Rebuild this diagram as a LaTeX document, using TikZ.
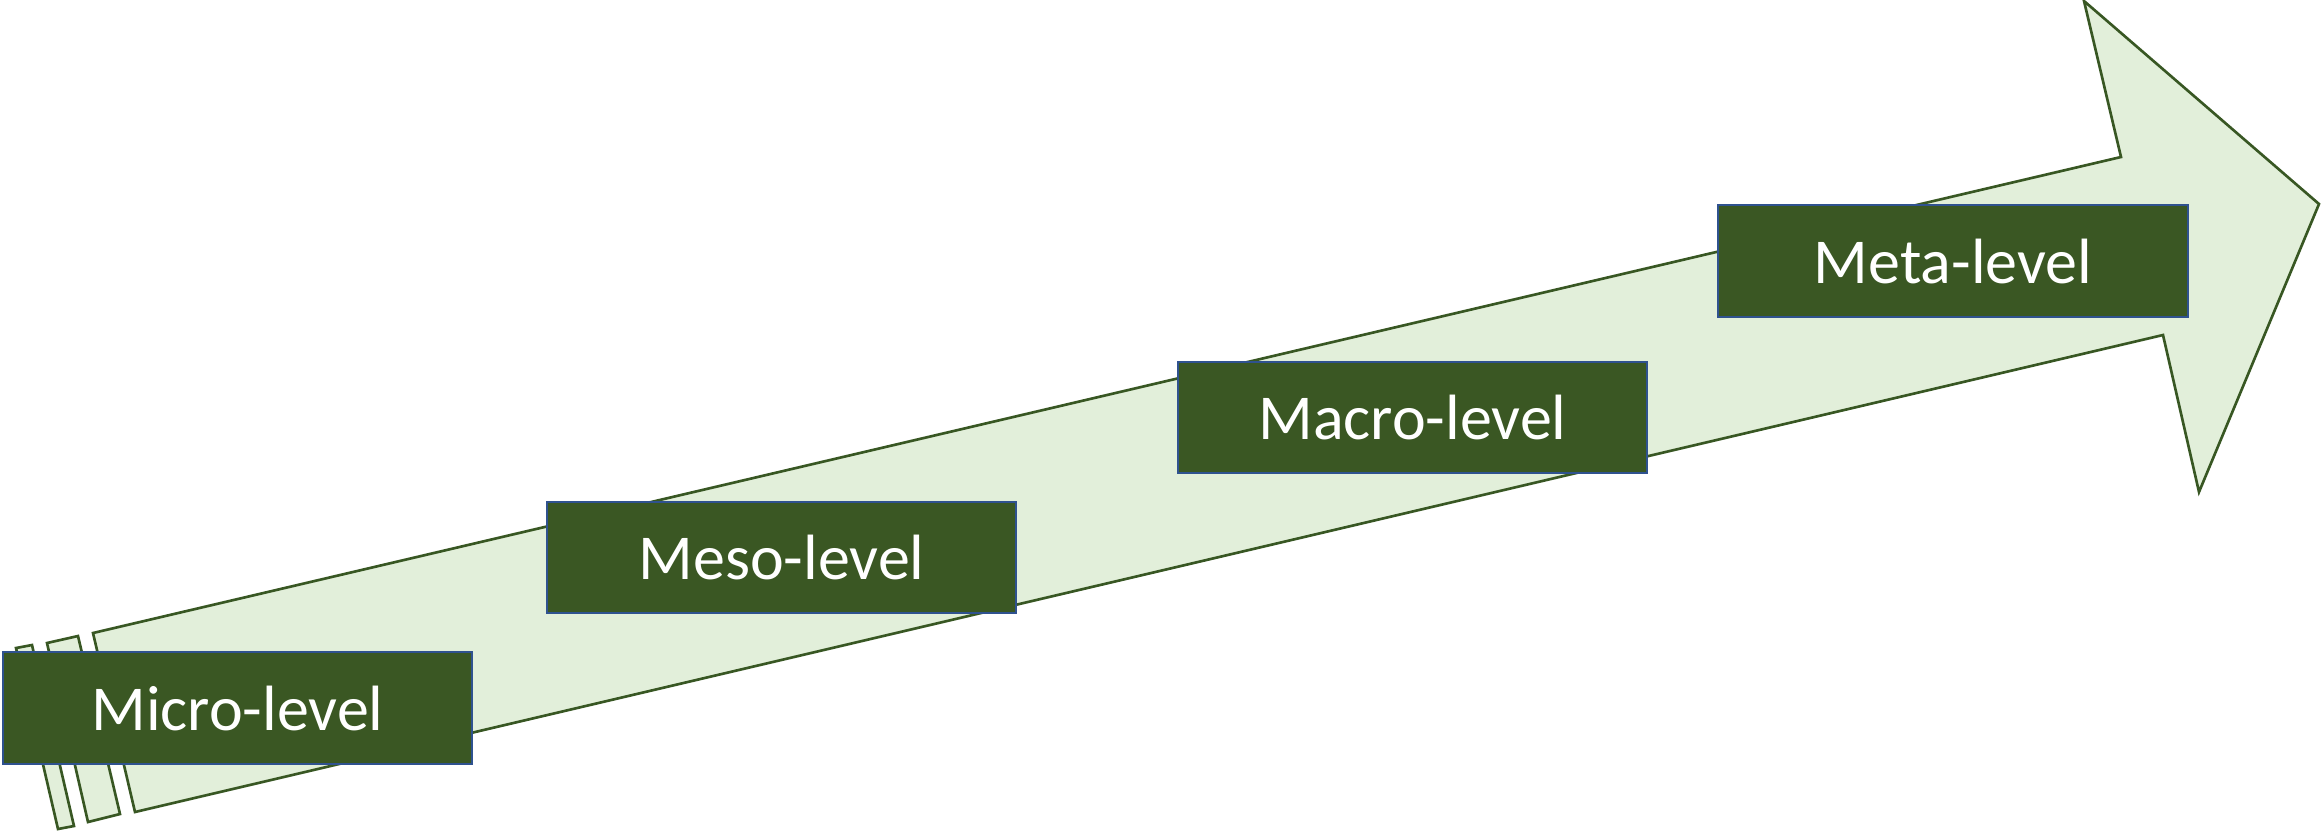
\documentclass[tikz,border=0pt]{standalone}
\usepackage{fontspec}
\setmainfont{Carlito}
\definecolor{arrowfill}{HTML}{E2EFDA}
\definecolor{arrowline}{HTML}{385723}
\definecolor{boxfill}{HTML}{3A5723}
\definecolor{boxline}{HTML}{2F528F}
\tikzset{
  arrowpart/.style={fill=arrowfill, draw=arrowline, line width=0.75pt, line join=miter},
  levelbox/.style={rectangle, fill=boxfill, draw=boxline, line width=0.6pt,
    minimum width=4.69cm, minimum height=1.115cm, inner sep=0pt,
    text=white, font=\fontsize{18.2pt}{20pt}\selectfont}
}
\begin{document}
\begin{tikzpicture}[x=0.01cm, y=-0.01cm]
\useasboundingbox (0,0) rectangle (2323,832);
% tail stripes
\draw[arrowpart] (16,648) -- (32,645) -- (74,826) -- (58,829) -- cycle;
\draw[arrowpart] (47,643) -- (78,636) -- (120,814) -- (88,822) -- cycle;
% main arrow
\draw[arrowpart] (93,633) -- (2121,157) -- (2084,1) -- (2319,204) -- (2199,492)
  -- (2163,335) -- (135,812) -- cycle;
% level boxes
\node[levelbox] (micro) at (237.5,708) {Micro-level};
\node[levelbox] (meso) at (781.5,557.5) {Meso-level};
\node[levelbox] (macro) at (1412.5,417.5) {Macro-level};
\node[levelbox] (meta) at (1953,261) {Meta-level};
\end{tikzpicture}
\end{document}
